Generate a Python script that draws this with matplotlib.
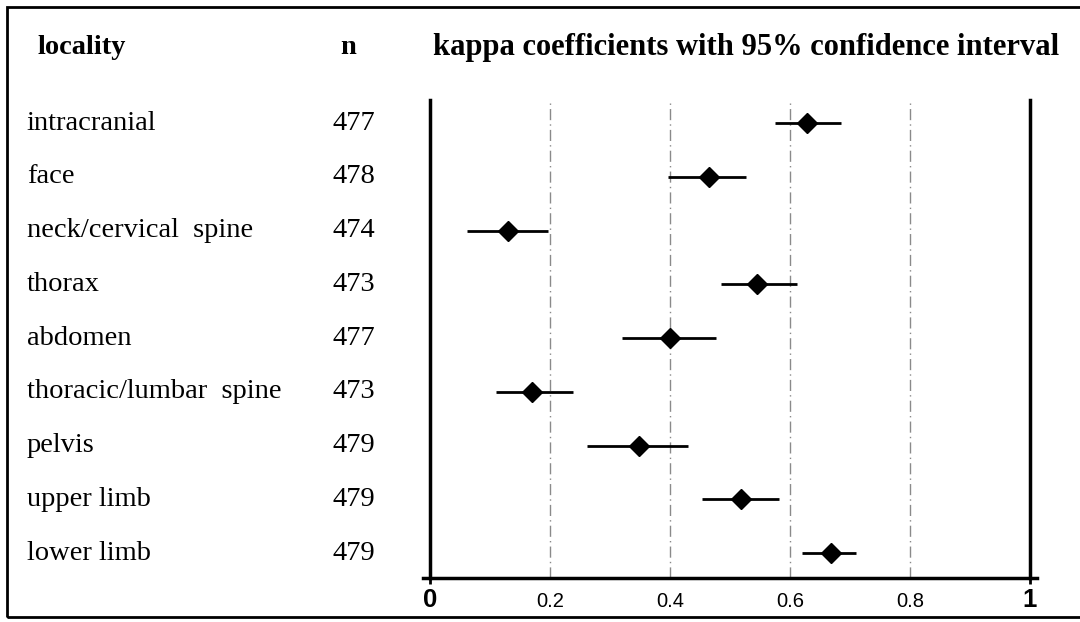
import matplotlib.pyplot as plt
from matplotlib.patches import Rectangle
from matplotlib.lines import Line2D

# data
localities = [
    "intracranial",
    "face",
    "neck/cervical  spine",
    "thorax",
    "abdomen",
    "thoracic/lumbar  spine",
    "pelvis",
    "upper limb",
    "lower limb",
]
n_values = [477, 478, 474, 473, 477, 473, 479, 479, 479]
kappa = [0.628, 0.465, 0.130, 0.545, 0.400, 0.170, 0.348, 0.518, 0.668]
ci_low = [0.575, 0.397, 0.062, 0.485, 0.320, 0.110, 0.262, 0.453, 0.620]
ci_high = [0.685, 0.527, 0.197, 0.612, 0.477, 0.238, 0.430, 0.582, 0.710]
grid_x = [0.2, 0.4, 0.6, 0.8]

W, H = 1080, 622
fig = plt.figure(figsize=(W / 100, H / 100), dpi=100)

# axes placed in pixel terms: x 430..1030, y 100..578
ax = fig.add_axes([430 / W, 1 - 578 / H, 600 / W, 478 / H])
ax.set_xlim(0, 1)
ax.set_ylim(8.465, -0.43)

serif = ["Liberation Serif", "DejaVu Serif"]
sans = ["Liberation Sans", "DejaVu Sans"]

for gx in grid_x:
    ax.axvline(gx, color="#8a8a8a", lw=1.0, ls=(0, (8, 3, 1, 3)), zorder=1)

rows = list(range(len(localities)))
for y, k, lo, hi in zip(rows, kappa, ci_low, ci_high):
    ax.plot([lo, hi], [y, y], color="black", lw=2.0, zorder=2,
            solid_capstyle="butt")
ax.plot(kappa, rows, ls="none", marker="D", ms=10, color="black", zorder=3)

for y, name, n in zip(rows, localities, n_values):
    ax.text(-0.672, y, name, fontsize=20.5, family=serif, va="center",
            ha="left", clip_on=False)
    ax.text(-0.162, y, str(n), fontsize=20.5, family=serif, va="center",
            ha="left", clip_on=False)

ax.spines["top"].set_visible(False)
ax.spines["bottom"].set_visible(False)
for side in ["left", "right"]:
    ax.spines[side].set_linewidth(2.5)
ax.add_line(Line2D([-0.012, 1.012], [8.465, 8.465], color="black", lw=2.5,
                   clip_on=False, zorder=4))

ax.set_yticks([])
ax.set_xticks([0, 1])
ax.set_xticklabels(["0", "1"], fontsize=18.5, fontweight="bold", family=sans)
ax.tick_params(axis="x", length=4, width=2, pad=3)
for gx in grid_x:
    ax.text(gx, 8.465 + 0.44, f"{gx:.1f}", fontsize=14.5, family=sans,
            ha="center", va="center", clip_on=False)

# column headers
fig.text(38 / W, 1 - 47 / H, "locality", fontsize=20.5, fontweight="bold",
         family=serif, va="center", ha="left")
fig.text(348 / W, 1 - 47 / H, "n", fontsize=20.5, fontweight="bold",
         family=serif, va="center", ha="center")
fig.text(433 / W, 1 - 47 / H, "kappa coefficients with 95% confidence interval",
         fontsize=22, fontweight="bold", family=serif, va="center", ha="left")

# outer frame
fig.patches.append(Rectangle((7 / W, 1 - 617 / H), 1.2, (610) / H,
                             transform=fig.transFigure, fill=False,
                             edgecolor="black", lw=2, clip_on=False))

fig.savefig("out.png", dpi=100)
